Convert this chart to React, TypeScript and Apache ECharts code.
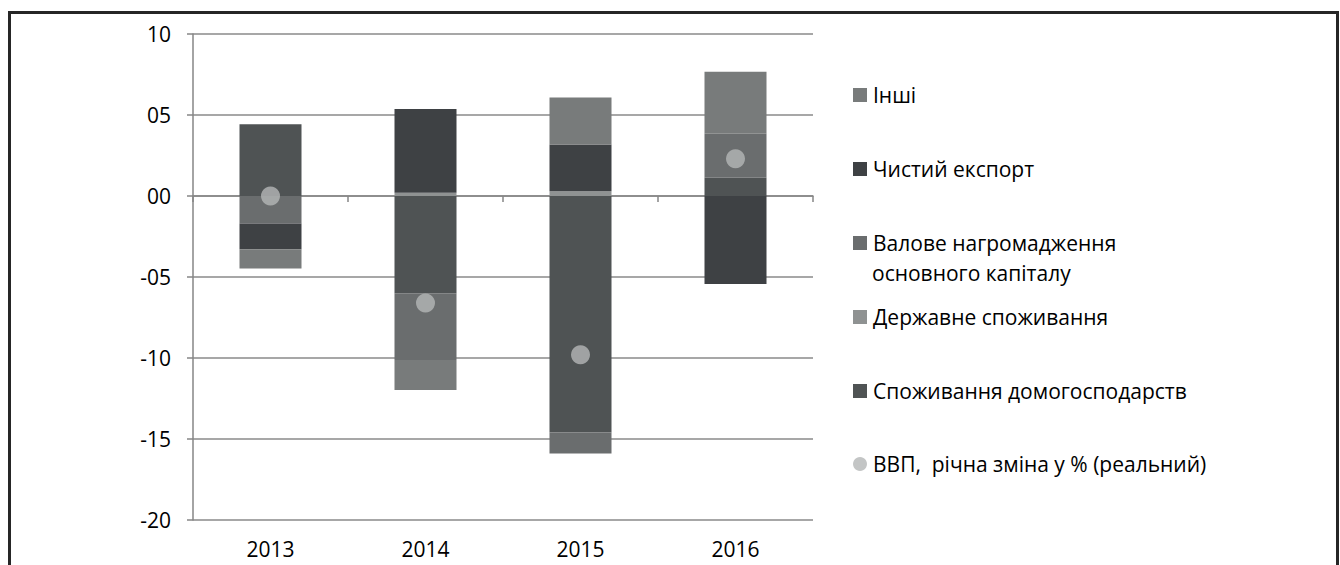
import React, { useEffect, useRef } from "react";
import * as echarts from "echarts";

const years = ["2013", "2014", "2015", "2016"];
const household = [4.43, -6.0, -14.6, 1.13];
const government = [0, 0.2, 0.3, 0];
const gfcf = [-1.69, -4.12, -1.3, 2.71];
const netExport = [-1.6, 5.17, 2.88, -5.43];
const other = [-1.19, -1.85, 2.9, 3.83];
const gdp = [0.0, -6.6, -9.8, 2.3];

const names = {
  household: "Споживання домогосподарств",
  government: "Державне споживання",
  gfcf: "Валове нагромадження основного капіталу",
  netExport: "Чистий експорт",
  other: "Інші",
  gdp: "ВВП,  річна зміна у % (реальний)",
};

const FONT = "'Open Sans', sans-serif";
const FS = 21;
const TXT = "#000000";

export default function App() {
  const ref = useRef<HTMLDivElement>(null);
  useEffect(() => {
    if (!ref.current) return;
    const chart = echarts.init(ref.current, null, { renderer: "svg" });
    const legendItem = (name: string, centerY: number, icon: string) => ({
      data: [{ name, icon }],
      left: 853,
      top: centerY - 13,
      padding: 0,
      itemWidth: 14,
      itemHeight: 14,
      itemGap: 0,
      selectedMode: false,
      formatter: (n: string) =>
        n === names.gfcf ? "Валове нагромадження" : n,
      textStyle: {
        fontFamily: FONT,
        fontSize: FS,
        color: TXT,
        lineHeight: 26,
        padding: [0, 0, 0, 1],
      },
    });
    const bar = (name: string, data: number[], color: string) => ({
      name,
      type: "bar",
      stack: "total",
      data,
      barWidth: 62,
      itemStyle: { color },
      xAxisIndex: 0,
      yAxisIndex: 0,
    });
    chart.setOption({
      animation: false,
      backgroundColor: "#ffffff",
      grid: { left: 193, right: 527, top: 34, bottom: 45 },
      xAxis: [
        {
          type: "category",
          data: years,
          position: "bottom",
          axisLine: { onZero: true, lineStyle: { color: "#868686", width: 1.5 } },
          axisTick: { show: true, length: 6, lineStyle: { color: "#868686", width: 1.5 } },
          axisLabel: { show: false },
        },
        {
          type: "category",
          data: years,
          position: "bottom",
          axisLine: { show: false, onZero: false },
          axisTick: { show: false },
          axisLabel: {
            show: true,
            margin: 18,
            fontFamily: FONT,
            fontSize: FS,
            color: TXT,
          },
        },
      ],
      yAxis: {
        type: "value",
        min: -20,
        max: 10,
        interval: 5,
        axisLine: { show: true, lineStyle: { color: "#868686", width: 1.5 } },
        axisTick: { show: true, length: 6, lineStyle: { color: "#868686", width: 1.5 } },
        splitLine: { show: true, lineStyle: { color: "#8a8a8a", width: 1.5 } },
        axisLabel: {
          margin: 22,
          fontFamily: FONT,
          fontSize: FS,
          color: TXT,
          formatter: (v: number) =>
            v < 0
              ? "-" + String(Math.abs(v)).padStart(2, "0")
              : String(v).padStart(2, "0"),
        },
      },
      legend: [
        legendItem(names.other, 95, "rect"),
        legendItem(names.netExport, 169, "rect"),
        legendItem(names.gfcf, 243, "rect"),
        legendItem(names.government, 317, "rect"),
        legendItem(names.household, 391, "rect"),
        legendItem(names.gdp, 464, "circle"),
      ],
      graphic: [
        {
          type: "text",
          left: 872,
          top: 273 - 13,
          style: {
            text: "основного капіталу",
            fontFamily: FONT,
            fontSize: FS,
            fill: TXT,
            lineHeight: 26,
          },
        },
        {
          type: "rect",
          shape: { x: 9.5, y: 12.5, width: 1328, height: 700 },
          style: { fill: "none", stroke: "#262626", lineWidth: 3 },
          silent: true,
        },
      ],
      series: [
        bar(names.household, household, "#4f5354"),
        bar(names.government, government, "#8f9292"),
        bar(names.gfcf, gfcf, "#6a6d6e"),
        bar(names.netExport, netExport, "#3e4144"),
        bar(names.other, other, "#787b7b"),
        {
          name: names.gdp,
          type: "scatter",
          data: gdp,
          symbol: "circle",
          symbolSize: 19,
          itemStyle: { color: "#b4b6b6" },
          xAxisIndex: 0,
          yAxisIndex: 0,
          z: 5,
        },
      ],
    });
    return () => chart.dispose();
  }, []);
  return (
    <div
      ref={ref}
      style={{ position: "fixed", left: 0, top: 0, width: 1340, height: 565 }}
    />
  );
}
